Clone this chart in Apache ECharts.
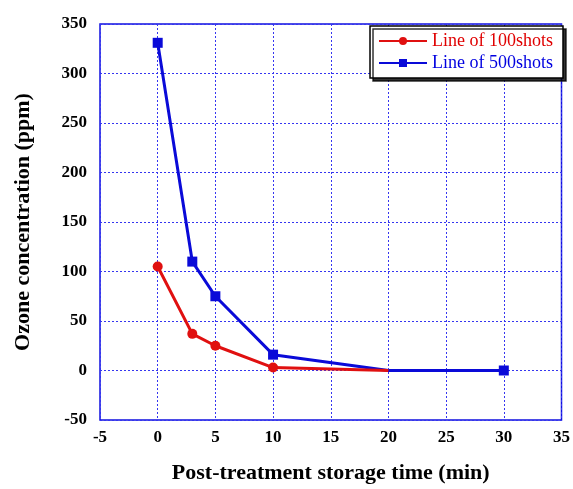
<!DOCTYPE html>
<html>
<head>
<meta charset="utf-8">
<script src="https://cdn.jsdelivr.net/npm/echarts@6/dist/echarts.min.js"></script>
<style>
  html, body { margin: 0; padding: 0; background: #fff; }
  #chart { width: 573px; height: 489px; }
</style>
</head>
<body>
<div id="chart"></div>
<script>
// storage time (min) and ozone (ppm)
const time100 = [0, 3, 5, 10, 20]
const ozone100 = [105, 37, 25, 3, 0]
const time500 = [0, 3, 5, 10, 20, 30]
const ozone500 = [331, 110, 75, 16, 0, 0]
// points drawn without a marker
const noMark100 = [20]
const noMark500 = [20]

const toData = (xs, ys, noMark) => xs.map((x, i) => {
  const p = { value: [x, ys[i]] }
  if (noMark.includes(x)) p.symbol = 'none'
  return p
})

const serif = '"Liberation Serif", "Times New Roman", serif'
const blue = '#1010e0'
const gridLine = { show: true, lineStyle: { color: '#3535f0', type: [2, 2], width: 1 } }

const chart = echarts.init(document.getElementById('chart'))

chart.setOption({
  animation: false,
  grid: { left: 100, right: 10, top: 24, bottom: 68, show: true, borderColor: blue, borderWidth: 1.5 },
  xAxis: {
    type: 'value',
    min: -5, max: 35, interval: 5,
    name: 'Post-treatment storage time (min)',
    nameLocation: 'middle', nameGap: 42,
    nameTextStyle: { fontFamily: serif, fontWeight: 'bold', fontSize: 22, color: '#000' },
    axisLine: { show: false },
    axisTick: { show: false },
    axisLabel: { fontFamily: serif, fontWeight: 'bold', fontSize: 17, color: '#000', margin: 9 },
    splitLine: gridLine
  },
  yAxis: {
    type: 'value',
    min: -50, max: 350, interval: 50,
    name: 'Ozone concentration (ppm)',
    nameLocation: 'middle', nameGap: 66, nameRotate: 90,
    nameTextStyle: { fontFamily: serif, fontWeight: 'bold', fontSize: 22, color: '#000' },
    axisLine: { show: false },
    axisTick: { show: false },
    axisLabel: { fontFamily: serif, fontWeight: 'bold', fontSize: 17, color: '#000', margin: 13 },
    splitLine: gridLine
  },
  legend: {
    orient: 'vertical',
    right: 10, top: 26,
    backgroundColor: '#fff',
    borderColor: '#000', borderWidth: 1.5,
    padding: [6, 10, 6, 8],
    itemGap: 4,
    itemWidth: 48, itemHeight: 10,
    shadowColor: 'rgba(0,0,0,0.8)', shadowOffsetX: 3, shadowOffsetY: 3,
    textStyle: { fontFamily: serif, fontSize: 18 },
    data: [
      { name: 'Line of 100shots', textStyle: { color: '#e00000' } },
      { name: 'Line of 500shots', textStyle: { color: '#0000e0' } }
    ]
  },
  series: [
    {
      name: 'Line of 100shots',
      type: 'line',
      data: toData(time100, ozone100, noMark100),
      symbol: 'circle', symbolSize: 10,
      color: '#e01010',
      lineStyle: { width: 3 },
      z: 3
    },
    {
      name: 'Line of 500shots',
      type: 'line',
      data: toData(time500, ozone500, noMark500),
      symbol: 'rect', symbolSize: 10,
      color: '#0a0ad8',
      lineStyle: { width: 3 },
      z: 2
    }
  ]
})
</script>
</body>
</html>
